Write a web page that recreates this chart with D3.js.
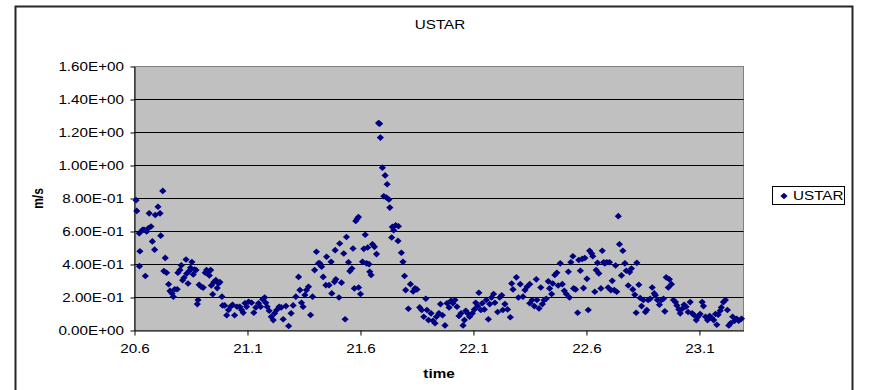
<!DOCTYPE html>
<html>
<head>
<meta charset="utf-8">
<script src="https://cdn.jsdelivr.net/npm/d3@7"></script>
<style>
  body { margin: 0; background: #fff; }
  text { font-family: "Liberation Sans", Arial, sans-serif; fill: #000; }
</style>
</head>
<body>
<svg id="chart" width="869" height="390"></svg>
<script>
// Friction velocity (USTAR) against decimal day
const times = [
  20.607, 20.610, 20.621, 20.624, 20.622, 20.636, 20.642, 20.648, 20.654, 20.661,
  20.665, 20.673, 20.679, 20.689, 20.692, 20.704, 20.713, 20.716, 20.725, 20.730,
  20.736, 20.742, 20.751, 20.757, 20.766, 20.772, 20.778, 20.789, 20.792, 20.801,
  20.807, 20.813, 20.819, 20.828, 20.831, 20.837, 20.842, 20.848, 20.854, 20.860,
  20.866, 20.872, 20.878, 20.881, 20.886, 20.895, 20.904, 20.913, 20.919, 20.925,
  20.931, 20.937, 20.940, 20.946, 20.951, 20.960, 20.966, 20.972, 20.978, 20.987,
  20.990, 20.999, 21.008, 21.016, 21.025, 21.034, 21.043, 21.054,
  21.066, 21.074, 21.081, 21.089, 21.096, 21.105, 21.118, 21.128, 21.137, 21.149,
  21.158, 21.167, 21.176, 21.181, 21.187, 21.196, 21.205, 21.214, 21.220, 21.229,
  21.240, 21.249, 21.258, 21.270, 21.282, 21.293, 21.302, 21.314, 21.326, 21.332,
  21.339, 21.346, 21.354, 21.361, 21.370, 21.379, 21.388, 21.397, 21.405, 21.414,
  21.420, 21.428, 21.435, 21.447, 21.450, 21.461, 21.470, 21.473, 21.485, 21.488,
  21.491, 21.505, 21.508, 21.516, 21.526, 21.532, 21.538, 21.547, 21.553, 21.562,
  21.567, 21.573, 21.579, 21.585, 21.591, 21.592, 21.600, 21.609, 21.615, 21.621,
  21.627, 21.632, 21.638, 21.641, 21.647, 21.653, 21.662, 21.671, 21.680, 21.685,
  21.688, 21.697, 21.703, 21.709, 21.715, 21.718, 21.726, 21.730, 21.738, 21.741,
  21.747, 21.756, 21.766, 21.768, 21.781, 21.788, 21.795, 21.800, 21.812, 21.821,
  21.833, 21.841, 21.850, 21.862, 21.871, 21.880, 21.889, 21.894, 21.901, 21.912,
  21.921, 21.930, 21.936, 21.947, 21.954, 21.963, 21.974, 21.983, 21.992, 22.001,
  22.009, 22.018, 22.027, 22.036, 22.045, 22.054, 22.060, 22.066, 22.074, 22.083,
  22.095, 22.104, 22.110, 22.119, 22.124, 22.133, 22.139, 22.148, 22.157, 22.166,
  22.172, 22.180, 22.189, 22.195, 22.207, 22.216, 22.225, 22.230, 22.239, 22.251,
  22.263, 22.269, 22.275, 22.290, 22.299, 22.307, 22.319, 22.328, 22.337, 22.349,
  22.349, 22.360, 22.369, 22.378, 22.381, 22.390, 22.398, 22.405, 22.413, 22.422,
  22.431, 22.437, 22.446, 22.451, 22.460, 22.469, 22.475, 22.484, 22.493, 22.502,
  22.511, 22.520, 22.525, 22.531, 22.540, 22.543, 22.552, 22.561, 22.566, 22.573,
  22.581, 22.587, 22.593, 22.602, 22.608, 22.614, 22.623, 22.628, 22.637, 22.643,
  22.649, 22.655, 22.664, 22.670, 22.676, 22.681, 22.690, 22.696, 22.702, 22.708,
  22.714, 22.723, 22.729, 22.734, 22.741, 22.746, 22.755, 22.761, 22.770, 22.776,
  22.785, 22.791, 22.799, 22.805, 22.814, 22.820, 22.823, 22.832, 22.838, 22.844,
  22.852, 22.861, 22.867, 22.873, 22.882, 22.891, 22.900, 22.905, 22.914, 22.923,
  22.932, 22.941, 22.947, 22.953, 22.962, 22.967, 22.976, 22.985, 22.994, 23.000,
  23.009, 23.015, 23.024, 23.032, 23.041, 23.050, 23.059, 23.068, 23.077, 23.086,
  23.094, 23.103, 23.112, 23.118, 23.127, 23.136, 23.145, 23.154, 23.163, 23.171,
  23.177, 23.183, 23.192, 23.197, 23.206, 23.215, 23.224, 23.230, 23.238, 23.247,
  23.256, 23.265, 23.274, 23.286
];

const ustar = [
  0.790, 0.725, 0.590, 0.480, 0.390, 0.610, 0.610, 0.330, 0.600, 0.620,
  0.710, 0.630, 0.540, 0.490, 0.700, 0.750, 0.710, 0.575, 0.846, 0.360,
  0.440, 0.350, 0.280, 0.240, 0.225, 0.205, 0.250, 0.250, 0.350, 0.366,
  0.395, 0.305, 0.320, 0.430, 0.345, 0.285, 0.360, 0.380, 0.415, 0.340,
  0.370, 0.366, 0.160, 0.185, 0.277, 0.265, 0.260, 0.350, 0.366, 0.355,
  0.334, 0.366, 0.273, 0.220, 0.293, 0.305, 0.257, 0.285, 0.293, 0.205,
  0.152, 0.152, 0.092, 0.124, 0.144, 0.156, 0.092, 0.144,
  0.144, 0.124, 0.108, 0.165, 0.144, 0.174, 0.168, 0.108, 0.140, 0.165,
  0.144, 0.189, 0.200, 0.168, 0.144, 0.120, 0.083, 0.063, 0.104, 0.124,
  0.144, 0.140, 0.068, 0.148, 0.027, 0.104, 0.152, 0.205, 0.325, 0.245,
  0.168, 0.144, 0.215, 0.245, 0.265, 0.094, 0.205, 0.366, 0.477, 0.407,
  0.407, 0.386, 0.325, 0.275, 0.447, 0.275, 0.416, 0.225, 0.295, 0.487,
  0.310, 0.200, 0.527, 0.290, 0.467, 0.068, 0.567, 0.414, 0.360, 0.376,
  0.497, 0.255, 0.664, 0.676, 0.688, 0.261, 0.221, 0.416, 0.495, 0.580,
  0.407, 0.503, 0.402, 0.356, 0.336, 0.523, 0.507, 0.463, 1.257, 1.253,
  1.169, 0.987, 0.814, 0.940, 0.806, 0.886, 0.794, 0.745, 0.564, 0.628,
  0.608, 0.638, 0.543, 0.632, 0.471, 0.416, 0.330, 0.245, 0.132, 0.281,
  0.237, 0.255, 0.249, 0.140, 0.124, 0.083, 0.192, 0.124, 0.063, 0.104,
  0.059, 0.044, 0.083, 0.104, 0.160, 0.092, 0.031, 0.165, 0.140, 0.180,
  0.165, 0.185, 0.144, 0.088, 0.104, 0.031, 0.063, 0.120, 0.104, 0.083,
  0.104, 0.128, 0.168, 0.148, 0.229, 0.124, 0.165, 0.128, 0.185, 0.068,
  0.160, 0.200, 0.221, 0.168, 0.112, 0.200, 0.213, 0.124, 0.160, 0.128,
  0.080, 0.285, 0.249, 0.322, 0.200, 0.281, 0.205, 0.245, 0.265, 0.281,
  0.165, 0.185, 0.148, 0.310, 0.185, 0.134, 0.261, 0.160, 0.185, 0.192,
  0.298, 0.255, 0.221, 0.285, 0.336, 0.350, 0.273, 0.407, 0.281, 0.241,
  0.221, 0.356, 0.200, 0.414, 0.450, 0.255, 0.249, 0.108, 0.427, 0.362,
  0.434, 0.257, 0.439, 0.313, 0.124, 0.483, 0.467, 0.450, 0.235, 0.366,
  0.410, 0.346, 0.255, 0.483, 0.414, 0.407, 0.414, 0.261, 0.414, 0.245,
  0.301, 0.245, 0.394, 0.235, 0.693, 0.523, 0.334, 0.483, 0.407, 0.362,
  0.273, 0.354, 0.376, 0.249, 0.217, 0.108, 0.410, 0.277, 0.197, 0.148,
  0.185, 0.112, 0.124, 0.185, 0.192, 0.261, 0.225, 0.213, 0.185, 0.156,
  0.185, 0.192, 0.116, 0.322, 0.261, 0.310, 0.281, 0.185, 0.172, 0.152,
  0.128, 0.104, 0.132, 0.156, 0.144, 0.112, 0.172, 0.104, 0.092, 0.063,
  0.083, 0.100, 0.172, 0.148, 0.083, 0.063, 0.088, 0.076, 0.063, 0.100,
  0.035, 0.096, 0.120, 0.140, 0.172, 0.185, 0.124, 0.031, 0.044, 0.083,
  0.059, 0.071, 0.059, 0.071
];

const xTicks = [20.6, 21.1, 21.6, 22.1, 22.6, 23.1];
const yTicks = [0, 0.2, 0.4, 0.6, 0.8, 1.0, 1.2, 1.4, 1.6];
const chartTitle = "USTAR";
const seriesName = "USTAR";
const xTitle = "time";
const yTitle = "m/s";

// Layout
const plot = { left: 134.5, right: 743.5, top: 66.5, bottom: 330.5 };
const SX = 1.27;              // horizontal stretch of the label glyphs
const FONT = 12;
const markColor = "#000080";

const svg = d3.select("#chart");

const x = d3.scaleLinear().domain([20.6, 23.295]).range([plot.left, plot.right]);
const y = d3.scaleLinear().domain([0, 1.6]).range([plot.bottom, plot.top]);

// Scientific-notation labels with a two-digit exponent, e.g. 1.60E+00
function sci(v) {
  const [m, e] = v.toExponential(2).split("e");
  const n = Math.abs(+e);
  return m + "E" + (+e < 0 ? "-" : "+") + (n < 10 ? "0" + n : n);
}

// Outer chart frame
svg.append("rect")
  .attr("x", 15.5).attr("y", 6.5)
  .attr("width", 837).attr("height", 420)
  .attr("fill", "#fff").attr("stroke", "#262626").attr("stroke-width", 2);

// Title
svg.append("text")
  .attr("transform", `translate(440,29) scale(${SX},1)`)
  .attr("text-anchor", "middle")
  .attr("font-size", FONT)
  .text(chartTitle);

// Plot area background
svg.append("rect")
  .attr("x", plot.left).attr("y", plot.top)
  .attr("width", plot.right - plot.left).attr("height", plot.bottom - plot.top)
  .attr("fill", "#c0c0c0").attr("stroke", "#808080").attr("stroke-width", 1);

// Horizontal gridlines
svg.append("g")
  .selectAll("line")
  .data(yTicks.filter(v => v > 0 && v < 1.6))
  .join("line")
  .attr("x1", plot.left).attr("x2", plot.right)
  .attr("y1", d => y(d)).attr("y2", d => y(d))
  .attr("stroke", "#000").attr("stroke-width", 1);

// Y axis
const yAxis = svg.append("g")
  .attr("transform", `translate(${plot.left},0)`)
  .call(d3.axisLeft(y).tickValues(yTicks).tickFormat(sci).tickSize(4).tickSizeOuter(0));
yAxis.select(".domain").attr("stroke", "#000");
yAxis.selectAll(".tick line").attr("stroke", "#000");
yAxis.selectAll(".tick text")
  .attr("font-size", FONT)
  .attr("font-family", "Liberation Sans, Arial, sans-serif")
  .attr("x", -10.5 / SX)
  .attr("dy", "0.36em")
  .attr("transform", `scale(${SX},1)`);

// X axis
const xAxis = svg.append("g")
  .attr("transform", `translate(0,${plot.bottom})`)
  .call(d3.axisBottom(x).tickValues(xTicks).tickFormat(d3.format(".1f")).tickSize(5).tickSizeOuter(0));
xAxis.select(".domain").attr("stroke", "#000");
xAxis.selectAll(".tick line").attr("stroke", "#000");
xAxis.selectAll(".tick text")
  .attr("font-size", FONT)
  .attr("font-family", "Liberation Sans, Arial, sans-serif")
  .attr("y", 23).attr("dy", null)
  .attr("transform", `scale(${SX},1)`);

// Axis titles
svg.append("text")
  .attr("transform", `translate(${(plot.left + plot.right) / 2},378) scale(${SX},1)`)
  .attr("text-anchor", "middle")
  .attr("font-size", FONT).attr("font-weight", "bold")
  .text(xTitle);

svg.append("text")
  .attr("transform", `translate(43,${(plot.top + plot.bottom) / 2}) rotate(-90) scale(1,${SX})`)
  .attr("text-anchor", "middle")
  .attr("font-size", FONT).attr("font-weight", "bold")
  .text(yTitle);

// Diamond marker, slightly wider than tall
const diamond = {
  draw(ctx) {
    const w = 3.6, h = 3.3;
    ctx.moveTo(0, -h); ctx.lineTo(w, 0); ctx.lineTo(0, h); ctx.lineTo(-w, 0); ctx.closePath();
  }
};
const symbol = d3.symbol(diamond);

const points = times.map((t, i) => ({ t, v: ustar[i] }));

svg.append("g")
  .selectAll("path")
  .data(points)
  .join("path")
  .attr("d", symbol)
  .attr("transform", d => `translate(${x(d.t)},${y(d.v)})`)
  .attr("fill", markColor);

// Legend
const legend = svg.append("g");
legend.append("rect")
  .attr("x", 772.5).attr("y", 186.5).attr("width", 72).attr("height", 18)
  .attr("fill", "#fff").attr("stroke", "#000").attr("stroke-width", 1);
legend.append("path")
  .attr("d", symbol)
  .attr("transform", "translate(784,196)")
  .attr("fill", markColor);
legend.append("text")
  .attr("transform", `translate(793,200) scale(${SX},1)`)
  .attr("font-size", FONT)
  .text(seriesName);
</script>
</body>
</html>
